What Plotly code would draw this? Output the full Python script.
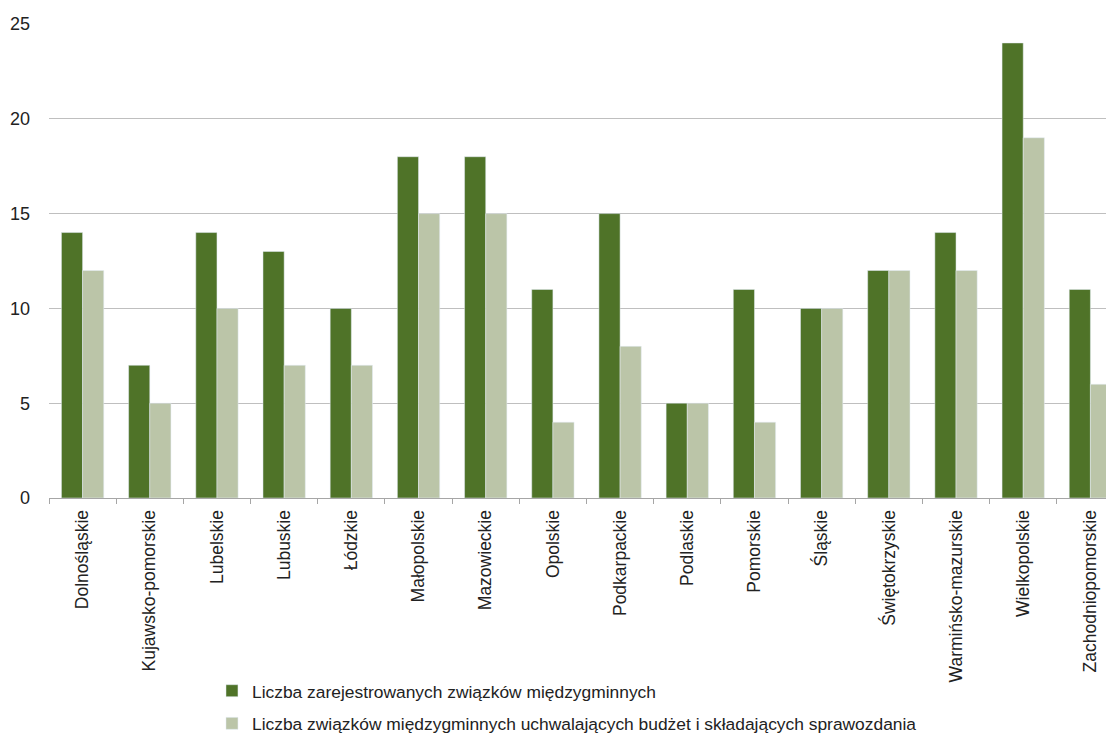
import plotly.graph_objects as go

# województwa
regions = ["Dolnośląskie", "Kujawsko-pomorskie", "Lubelskie", "Lubuskie", "Łódzkie",
           "Małopolskie", "Mazowieckie", "Opolskie", "Podkarpackie", "Podlaskie",
           "Pomorskie", "Śląskie", "Świętokrzyskie", "Warmińsko-mazurskie",
           "Wielkopolskie", "Zachodniopomorskie"]

registered = [14, 7, 14, 13, 10, 18, 18, 11, 15, 5, 11, 10, 12, 14, 24, 11]
reporting = [12, 5, 10, 7, 7, 15, 15, 4, 8, 5, 4, 10, 12, 12, 19, 6]

name_registered = "Liczba zarejestrowanych związków międzygminnych"
name_reporting = "Liczba związków międzygminnych uchwalających budżet i składających sprawozdania"

font_family = "Liberation Sans, Arial, sans-serif"

fig = go.Figure()
fig.add_trace(go.Bar(x=regions, y=registered, name=name_registered,
                     marker_color="#4F7328", legendgroup="a"))
fig.add_trace(go.Bar(x=regions, y=reporting, name=name_reporting,
                     marker_color="#BBC5A8", legendgroup="b"))

# page body has an 8px margin; the plot runs slightly past the right edge like the original
fig.update_layout(
    width=1116, height=736,
    margin=dict(l=41, r=0, t=16, b=246),
    plot_bgcolor="white", paper_bgcolor="white",
    barmode="group", bargap=0.37, bargroupgap=0,
    font=dict(family=font_family, size=15, color="#222222"),
    legend=dict(x=0.1516, y=-0.369, xanchor="left", yanchor="top",
                orientation="v", traceorder="grouped", tracegroupgap=7,
                font=dict(size=17.4)),
)
fig.update_xaxes(tickangle=-90, ticks="outside", tickson="boundaries",
                 ticklen=5, tickcolor="#A6A6A6", showline=True,
                 linecolor="#A6A6A6", tickfont=dict(size=17.5),
                 ticklabelstandoff=4, automargin=False)
fig.update_yaxes(range=[0, 25], dtick=5, showgrid=True, gridcolor="#BFBFBF",
                 gridwidth=1, zeroline=False, ticks="", tickfont=dict(size=18),
                 ticklabelstandoff=18, automargin=False)

fig.write_html("out.html")
